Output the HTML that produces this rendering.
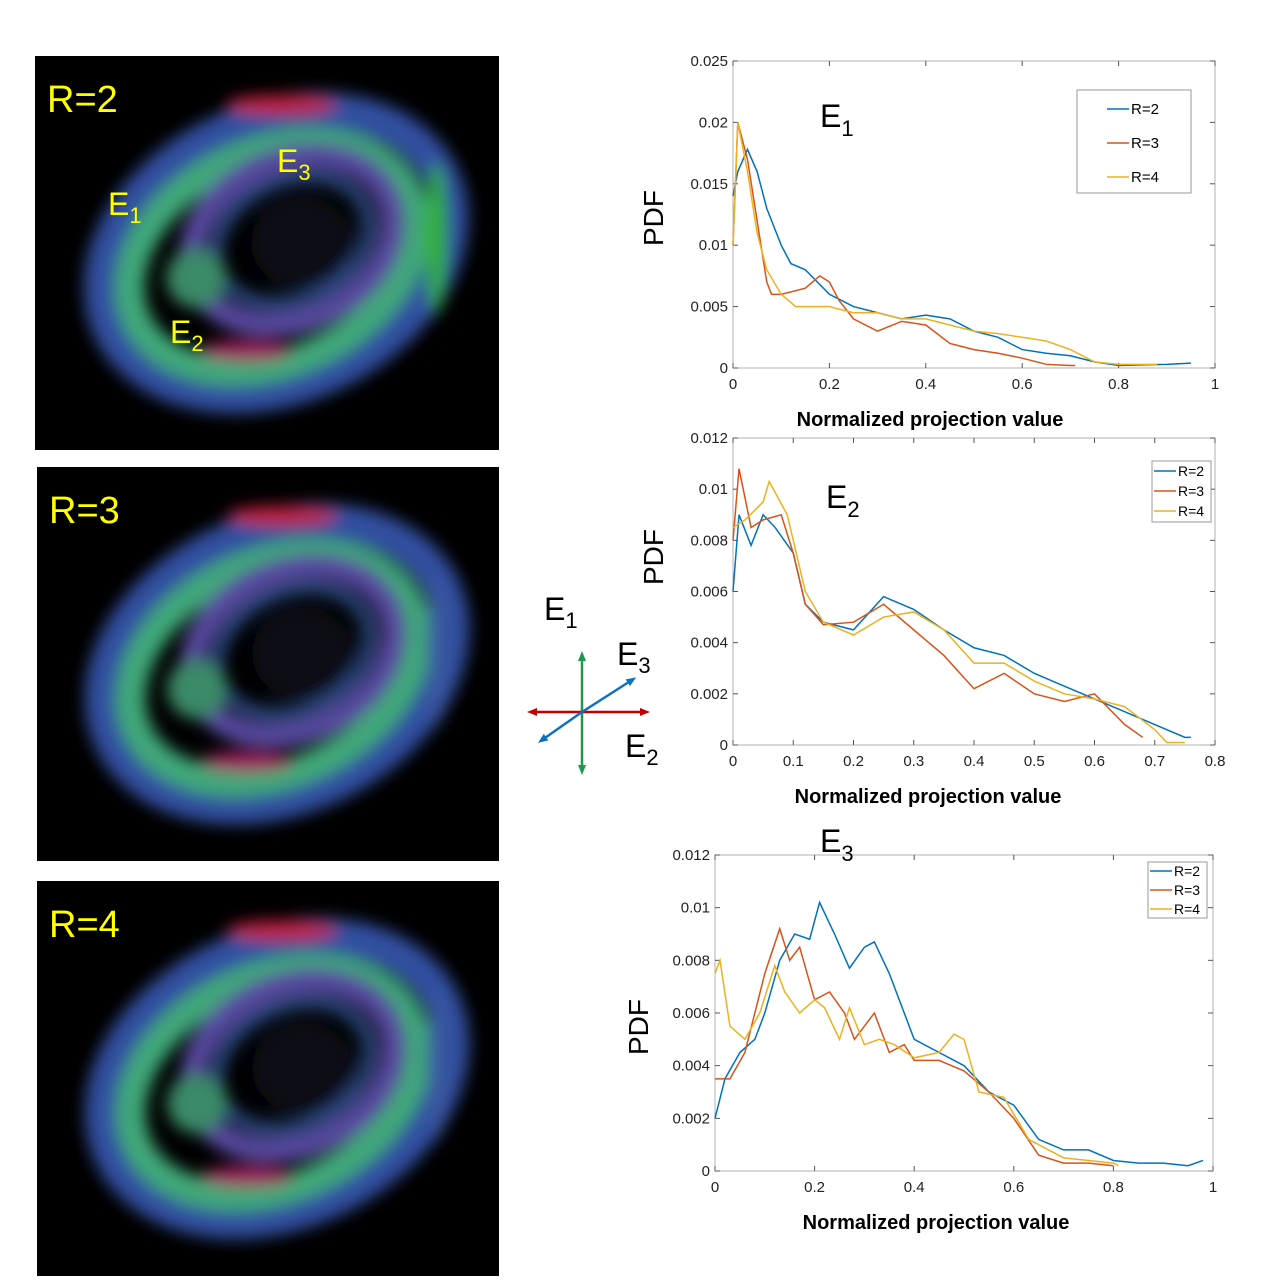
<!DOCTYPE html>
<html><head><meta charset="utf-8">
<style>
body{margin:0;background:#fff;width:1280px;height:1285px;position:relative;overflow:hidden;font-family:"Liberation Sans",sans-serif}
svg{position:absolute;left:0;top:0}
</style></head>
<body>
<svg width="1280" height="1285" viewBox="0 0 1280 1285">
<defs>
<filter id="bl" x="-20%" y="-20%" width="140%" height="140%"><feGaussianBlur stdDeviation="8"/></filter>
<marker id="ag" markerUnits="userSpaceOnUse" markerWidth="10" markerHeight="10" refX="5" refY="5" orient="auto"><path d="M0,1 L10,5 L0,9 z" fill="#1a9a4a"/></marker>
<marker id="ar" markerUnits="userSpaceOnUse" markerWidth="10" markerHeight="10" refX="5" refY="5" orient="auto"><path d="M0,1 L10,5 L0,9 z" fill="#c00000"/></marker>
<marker id="ab" markerUnits="userSpaceOnUse" markerWidth="10" markerHeight="10" refX="5" refY="5" orient="auto"><path d="M0,1 L10,5 L0,9 z" fill="#1070c0"/></marker>
</defs>
<g id="images"></g>
<g>
<line x1="582" y1="712" x2="582" y2="656" stroke="#1a9a4a" stroke-width="2.5" marker-end="url(#ag)"/>
<line x1="582" y1="712" x2="582" y2="770" stroke="#1a9a4a" stroke-width="2.5" marker-end="url(#ag)"/>
<line x1="582" y1="712" x2="645" y2="712" stroke="#c00000" stroke-width="2.5" marker-end="url(#ar)"/>
<line x1="582" y1="712" x2="532" y2="712" stroke="#c00000" stroke-width="2.5" marker-end="url(#ar)"/>
<line x1="582" y1="712" x2="632" y2="680" stroke="#1070c0" stroke-width="2.5" marker-end="url(#ab)"/>
<line x1="582" y1="712" x2="542" y2="740" stroke="#1070c0" stroke-width="2.5" marker-end="url(#ab)"/>
<text x="544" y="620" font-size="32">E<tspan font-size="22" dy="8">1</tspan></text>
<text x="617" y="665" font-size="32">E<tspan font-size="22" dy="8">3</tspan></text>
<text x="625" y="757" font-size="32">E<tspan font-size="22" dy="8">2</tspan></text>
</g>
<g id="charts"></g>
</svg>
<script>
// ---------- Chart data ----------
const c1x=[0,0.01,0.03,0.05,0.07,0.1,0.12,0.15,0.2,0.25,0.3,0.35,0.4,0.45,0.5,0.55,0.6,0.65,0.7,0.75,0.8,0.9,0.95];
const c1b=[0.014,0.016,0.0178,0.016,0.013,0.01,0.0085,0.008,0.006,0.005,0.0045,0.004,0.0043,0.004,0.003,0.0025,0.0015,0.0012,0.001,0.0005,0.0002,0.0003,0.0004];
const c1rx=[0,0.01,0.03,0.05,0.07,0.08,0.1,0.15,0.18,0.2,0.22,0.25,0.3,0.35,0.4,0.45,0.5,0.55,0.6,0.65,0.7,0.71];
const c1r=[0.01,0.02,0.017,0.012,0.007,0.006,0.006,0.0065,0.0075,0.007,0.0055,0.004,0.003,0.0038,0.0035,0.002,0.0015,0.0012,0.0008,0.0003,0.0002,0.0002];
const c1yx=[0,0.01,0.03,0.05,0.07,0.1,0.13,0.2,0.25,0.3,0.35,0.4,0.45,0.5,0.55,0.6,0.65,0.7,0.75,0.8,0.85,0.88];
const c1y=[0.01,0.02,0.016,0.011,0.008,0.006,0.005,0.005,0.0045,0.0045,0.004,0.004,0.0035,0.003,0.0028,0.0025,0.0022,0.0015,0.0005,0.0003,0.0003,0.0003];
const c2bx=[0,0.01,0.03,0.05,0.07,0.1,0.12,0.15,0.2,0.25,0.3,0.35,0.4,0.45,0.5,0.55,0.6,0.65,0.7,0.75,0.76];
const c2b=[0.006,0.009,0.0078,0.009,0.0085,0.0075,0.0055,0.0048,0.0045,0.0058,0.0053,0.0045,0.0038,0.0035,0.0028,0.0023,0.0018,0.0013,0.0008,0.0003,0.0003];
const c2rx=[0,0.01,0.03,0.05,0.08,0.1,0.12,0.15,0.2,0.25,0.3,0.35,0.4,0.45,0.5,0.55,0.6,0.65,0.68];
const c2r=[0.008,0.0108,0.0085,0.0088,0.009,0.0075,0.0055,0.0047,0.0048,0.0055,0.0045,0.0035,0.0022,0.0028,0.002,0.0017,0.002,0.0008,0.0003];
const c2yx=[0,0.02,0.05,0.06,0.09,0.12,0.15,0.2,0.25,0.3,0.35,0.4,0.45,0.5,0.55,0.6,0.65,0.7,0.72,0.75];
const c2y=[0.0085,0.0088,0.0095,0.0103,0.009,0.006,0.0048,0.0043,0.005,0.0052,0.0045,0.0032,0.0032,0.0025,0.002,0.0018,0.0015,0.0006,0.0001,0.0001];
const c3bx=[0,0.02,0.05,0.08,0.1,0.13,0.16,0.19,0.21,0.24,0.27,0.3,0.32,0.35,0.38,0.4,0.45,0.5,0.55,0.6,0.65,0.7,0.75,0.8,0.85,0.9,0.95,0.98];
const c3b=[0.002,0.0035,0.0045,0.005,0.006,0.008,0.009,0.0088,0.0102,0.009,0.0077,0.0085,0.0087,0.0075,0.006,0.005,0.0045,0.004,0.003,0.0025,0.0012,0.0008,0.0008,0.0004,0.0003,0.0003,0.0002,0.0004];
const c3rx=[0,0.03,0.06,0.1,0.13,0.15,0.17,0.2,0.23,0.26,0.28,0.3,0.32,0.35,0.38,0.4,0.45,0.5,0.55,0.6,0.65,0.7,0.75,0.8];
const c3r=[0.0035,0.0035,0.0045,0.0075,0.0092,0.008,0.0085,0.0065,0.0068,0.006,0.005,0.0055,0.006,0.0045,0.0048,0.0042,0.0042,0.0038,0.003,0.002,0.0006,0.0003,0.0003,0.0002];
const c3yx=[0,0.01,0.03,0.06,0.09,0.12,0.14,0.17,0.2,0.22,0.25,0.27,0.3,0.33,0.36,0.4,0.45,0.48,0.5,0.53,0.58,0.63,0.7,0.75,0.8,0.81];
const c3y=[0.0075,0.008,0.0055,0.005,0.006,0.0078,0.0068,0.006,0.0065,0.0062,0.005,0.0062,0.0048,0.005,0.0048,0.0043,0.0045,0.0052,0.005,0.003,0.0028,0.0012,0.0005,0.0004,0.0003,0.0002];
const c1xt=["0","0.2","0.4","0.6","0.8","1"], c1yt=["0","0.005","0.01","0.015","0.02","0.025"];
const c2xt=["0","0.1","0.2","0.3","0.4","0.5","0.6","0.7","0.8"], c2yt=["0","0.002","0.004","0.006","0.008","0.01","0.012"];
const c3xt=c1xt, c3yt=c2yt;
const legendLabels=["R=2","R=3","R=4"];
const COLS=["#0072bd","#d95319","#edb120"];
const NS="http://www.w3.org/2000/svg";
function mk(tag,attrs,parent){const e=document.createElementNS(NS,tag);for(const k in attrs)e.setAttribute(k,attrs[k]);parent.appendChild(e);return e;}
function chart(o){
  const g=mk('g',{},document.getElementById('charts'));
  
  
  const X=v=>o.x0+(v-o.xmin)/(o.xmax-o.xmin)*(o.x1-o.x0);
  const Y=v=>o.y1-(v/o.ymax)*(o.y1-o.y0);
  const box=mk('rect',{x:o.x0,y:o.y0,width:o.x1-o.x0,height:o.y1-o.y0,fill:'#fff',stroke:'#b0b0b0','stroke-width':1},g);
  
  o.xt.forEach((t,i)=>{const v=o.xmin+i*(o.xmax-o.xmin)/(o.xt.length-1);const px=X(v);
    mk('line',{x1:px,y1:o.y1,x2:px,y2:o.y1-5,stroke:'#555'},g);mk('line',{x1:px,y1:o.y0,x2:px,y2:o.y0+5,stroke:'#555'},g);
    const tx=mk('text',{x:px,y:o.y1+21,'font-size':15,'text-anchor':'middle',fill:'#222'},g);tx.textContent=t;
    });
  o.yt.forEach((t,i)=>{const v=i*o.ymax/(o.yt.length-1);const py=Y(v);
    mk('line',{x1:o.x0,y1:py,x2:o.x0+5,y2:py,stroke:'#555'},g);mk('line',{x1:o.x1,y1:py,x2:o.x1-5,y2:py,stroke:'#555'},g);
    const tx=mk('text',{x:o.x0-5,y:py+5,'font-size':15,'text-anchor':'end',fill:'#222'},g);tx.textContent=t;
    });
  o.series.forEach((s,i)=>{const p=mk('polyline',{points:s[0].map((xv,j)=>X(xv)+','+Y(s[1][j])).join(' '),fill:'none',stroke:COLS[i],'stroke-width':1.5},g);
    });
  const xl=mk('text',{x:o.xlx,y:o.xly,'font-size':20,'font-weight':'bold','text-anchor':'middle'},g);xl.textContent='Normalized  projection value';
  
  const yl=mk('text',{x:0,y:0,'font-size':28,'text-anchor':'middle',transform:`translate(${o.ylx},${o.yly}) rotate(-90)`},g);yl.textContent='PDF';
  
  const tl=mk('text',{x:o.tx,y:o.ty,'font-size':32},g);tl.innerHTML='E<tspan font-size="22" dy="9">'+o.sub+'</tspan>';
  
  const L=o.leg;const lg=mk('g',{},g);
  
  mk('rect',{x:L.x,y:L.y,width:L.w,height:L.h,fill:'#fff',stroke:'#999'},lg);
  legendLabels.forEach((lab,i)=>{const yy=L.y+L.r0+i*L.dy;
    mk('line',{x1:L.x+L.lx,y1:yy,x2:L.x+L.lx+L.ll,y2:yy,stroke:COLS[i],'stroke-width':1.5},lg);
    const t=mk('text',{x:L.x+L.lx+2+L.ll,y:yy+5,'font-size':L.fs},lg);t.textContent=lab;
    });
}
chart({name:'chart-e1',x0:733,x1:1215,y0:61,y1:368,xmin:0,xmax:1,ymax:0.025,xt:c1xt,yt:c1yt,
 series:[[c1x,c1b],[c1rx,c1r],[c1yx,c1y]],xlx:930,xly:426,ylx:663,yly:218,tx:820,ty:127,sub:'1',
 leg:{x:1077,y:90,w:114,h:103,r0:19,dy:34,lx:30,ll:22,fs:15}});
chart({name:'chart-e2',x0:733,x1:1215,y0:438,y1:745,xmin:0,xmax:0.8,ymax:0.012,xt:c2xt,yt:c2yt,
 series:[[c2bx,c2b],[c2rx,c2r],[c2yx,c2y]],xlx:928,xly:803,ylx:663,yly:557,tx:826,ty:508,sub:'2',
 leg:{x:1152,y:461,w:59,h:61,r0:10,dy:20,lx:2,ll:22,fs:14}});
chart({name:'chart-e3',x0:715,x1:1213,y0:855,y1:1171,xmin:0,xmax:1,ymax:0.012,xt:c3xt,yt:c3yt,
 series:[[c3bx,c3b],[c3rx,c3r],[c3yx,c3y]],xlx:936,xly:1229,ylx:648,yly:1027,tx:820,ty:852,sub:'3',
 leg:{x:1148,y:862,w:59,h:56,r0:9,dy:19,lx:2,ll:22,fs:14}});

// ---------- DTI-like ring images ----------
function ring(p){
  const g=mk('g',{},document.getElementById('images'));
  
  mk('rect',{x:p.x,y:p.y,width:p.w,height:p.h,fill:'#000'},g);
  const cx=p.x+p.w*0.52,cy=p.y+p.h*0.5;
  const inner=mk('g',{filter:'url(#bl)'},g);
  const R=`rotate(-25 ${cx} ${cy})`;
  mk('ellipse',{cx:cx,cy:cy,rx:182,ry:132,fill:'none',stroke:'#3050a0','stroke-width':36,transform:R},inner);
  mk('ellipse',{cx:cx-5,cy:cy+2,rx:150,ry:105,fill:'none',stroke:'#40a878','stroke-width':30,transform:R},inner);
  mk('ellipse',{cx:cx+20,cy:cy-5,rx:105,ry:80,fill:'none',stroke:'#5848a0','stroke-width':24,transform:R},inner);
  mk('ellipse',{cx:cx+20,cy:cy-5,rx:80,ry:60,fill:'none',stroke:'#2a4a80','stroke-width':14,transform:R},inner);
  mk('ellipse',{cx:cx-80,cy:cy+25,rx:30,ry:30,fill:'#3a8a68'},inner);
  mk('ellipse',{cx:cx+5,cy:cy-148,rx:55,ry:10,fill:'#c02040'},inner);
  mk('ellipse',{cx:cx-30,cy:cy+98,rx:45,ry:10,fill:'#a02060'},inner);
  mk('ellipse',{cx:cx+160,cy:cy-15,rx:10,ry:75,fill:p.green?'#30b030':'#3a58a0'},inner);
  mk('ellipse',{cx:cx+25,cy:cy-10,rx:50,ry:45,fill:'#080a14'},inner);
  const t=mk('text',{x:p.x+12,y:p.y+56,'font-size':38,fill:'#ffff00'},g);t.textContent=p.label;
  
  return g;
}
const g1=ring({name:'image-r2',x:35,y:56,w:464,h:394,label:'R=2',green:true});
ring({name:'image-r3',x:37,y:467,w:462,h:394,label:'R=3'});
ring({name:'image-r4',x:37,y:881,w:462,h:395,label:'R=4'});
[['1',108,215],['3',277,172],['2',170,343]].forEach(a=>{const t=mk('text',{x:a[1],y:a[2],'font-size':32,fill:'#ffff00'},g1);
 t.innerHTML='E<tspan font-size="22" dy="8">'+a[0]+'</tspan>';
 });
</script>
</body></html>
